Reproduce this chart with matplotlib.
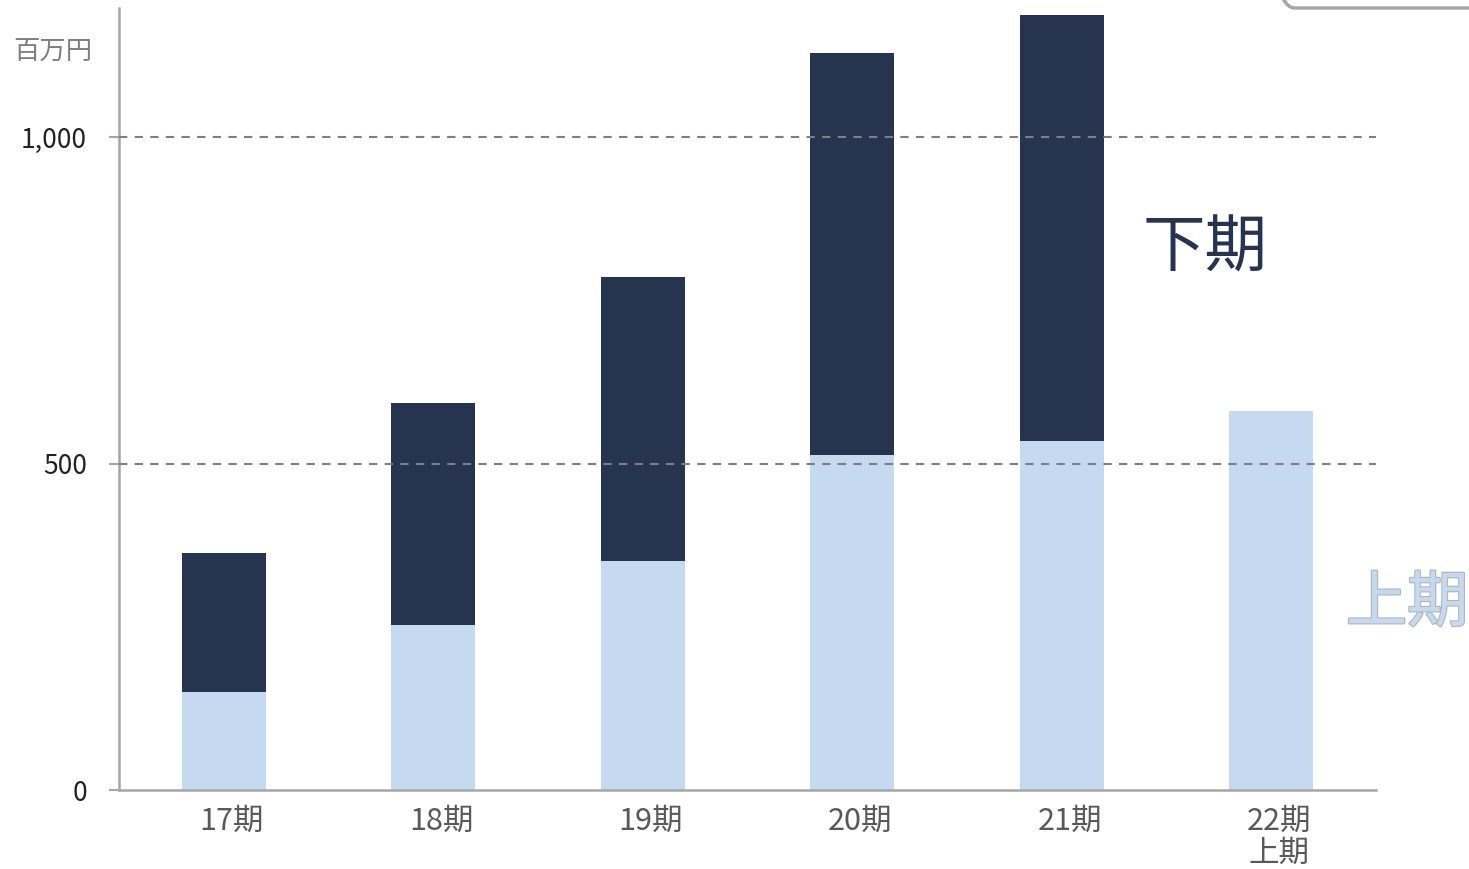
import matplotlib
matplotlib.use("Agg")
import matplotlib.pyplot as plt
from matplotlib.patches import FancyBboxPatch
import matplotlib.patheffects as pe
import matplotlib.transforms as mtrans

plt.rcParams['font.family'] = ['Noto Sans CJK JP', 'DejaVu Sans']

categories = ["17期", "18期", "19期", "20期", "21期", "22期\n上期"]
first_half = [150, 253, 351, 513, 534, 580]
second_half = [213, 340, 435, 616, 653, 0]
yticks = [0, 500, 1000]
ytick_labels = ["0", "500", "1,000"]

navy = "#263450"
light = "#C5D9F1"

fig = plt.figure(figsize=(14.69, 8.69), dpi=100)
ax = fig.add_axes([0.081, 0.0909, 0.8557, 0.9])

x = list(range(len(categories)))
ax.bar(x, first_half, width=0.4, color=light, zorder=2)
ax.bar(x, second_half, width=0.4, bottom=first_half, color=navy, zorder=2)

ax.set_xlim(-0.5, 5.5)
ax.set_ylim(0, 1198)

for v in [500, 1000]:
    ax.axhline(v, color="#7f7f7f", lw=1.5, ls=(0, (4, 3.5)), zorder=3)

ax.set_yticks(yticks)
ax.set_yticklabels(ytick_labels)
ax.set_xticks(x)
ax.set_xticklabels(categories, linespacing=1.05)
ax.tick_params(axis='y', length=7, width=1.5, color="#a6a6a6", pad=16,
               labelsize=19, labelcolor="#222222")
ax.tick_params(axis='x', length=0, pad=11, labelsize=22, labelcolor="#595959")
offset = mtrans.ScaledTranslation(8 / 100, 0, fig.dpi_scale_trans)
for lab in ax.get_xticklabels():
    lab.set_transform(lab.get_transform() + offset)

for s in ["top", "right"]:
    ax.spines[s].set_visible(False)
ax.spines["left"].set_color("#a6a6a6")
ax.spines["left"].set_linewidth(1.8)
ax.spines["bottom"].set_color("#a6a6a6")
ax.spines["bottom"].set_linewidth(1.8)

fig.text(13/1469, 1 - 52/869, "百万円", fontsize=19, color="#7f7f7f",
         ha="left", va="center")
fig.text(1205/1469, 1 - 248/869, "下期", fontsize=45, color=navy,
         ha="center", va="center")
t = fig.text(1346/1469, 1 - 604/869, "上期", fontsize=44, color=light,
             ha="left", va="center")
t.set_path_effects([pe.withStroke(linewidth=1.8, foreground="#b4b4b4"), pe.Normal()])

box = FancyBboxPatch((1268/1469, 1 - 8/869), 0.3, 0.2, transform=fig.transFigure,
                     boxstyle="round,pad=0,rounding_size=0.018",
                     fill=False, edgecolor="#a6a6a6", lw=2.5, clip_on=False)
fig.patches.append(box)

fig.savefig("out.png", dpi=100)
